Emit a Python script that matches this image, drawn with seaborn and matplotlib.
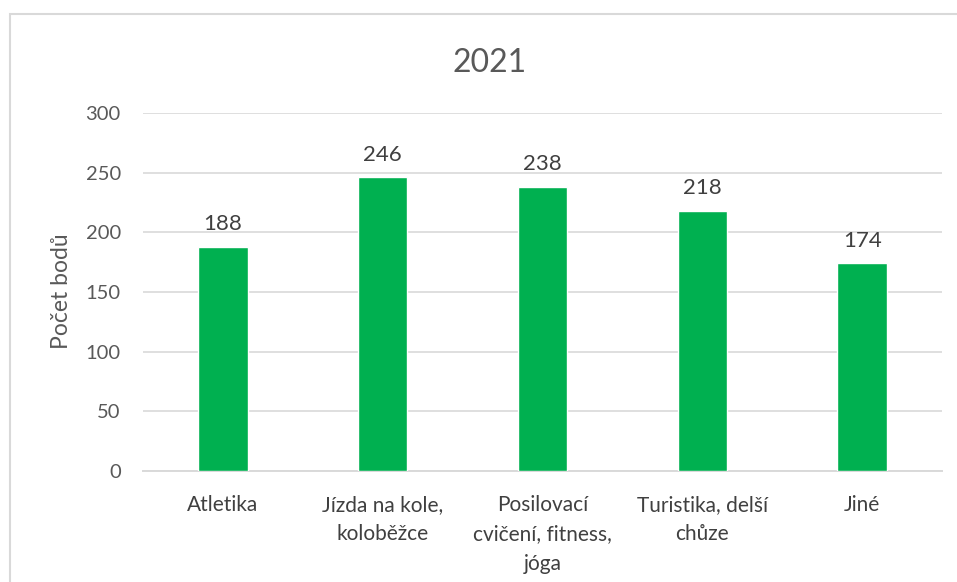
import matplotlib
matplotlib.use("Agg")
import matplotlib.pyplot as plt
import seaborn as sns
from matplotlib.patches import Rectangle

# Data
categories = ["Atletika", "Jízda na kole,\nkoloběžce", "Posilovací\ncvičení, fitness,\njóga",
              "Turistika, delší\nchůze", "Jiné"]
values = [188, 246, 238, 218, 174]
title = "2021"
y_label = "Počet bodů"
y_ticks = [0, 50, 100, 150, 200, 250, 300]

sns.set_theme(style="white")
plt.rcParams["font.family"] = ["Lato", "DejaVu Sans"]

W, H = 957, 582
fig = plt.figure(figsize=(W / 100, H / 100), dpi=100)
fig.patch.set_facecolor("white")

# axes area in pixels: x 143..942, y 113..471
ax = fig.add_axes([143 / W, 1 - 471 / H, (942 - 143) / W, (471 - 113) / H])

sns.barplot(x=categories, y=values, color="#00B050", saturation=1, width=0.31, ax=ax, zorder=3)

ax.set_ylim(0, 300)
ax.set_yticks(y_ticks)
ax.set_xlim(-0.5, len(categories) - 0.5)
ax.grid(axis="y", color="#D9D9D9", linewidth=1.2, zorder=0)
ax.set_axisbelow(True)
for side in ["left", "right", "top"]:
    ax.spines[side].set_visible(False)
ax.spines["bottom"].set_color("#D9D9D9")
ax.spines["bottom"].set_linewidth(1.4)
ax.tick_params(axis="y", length=0, pad=16, labelsize=14.5, labelcolor="#595959")
ax.tick_params(axis="x", length=0, pad=17, labelsize=15, labelcolor="#404040")
for lbl in ax.get_xticklabels():
    lbl.set_linespacing(1.6)
ax.set_xlabel("")
ax.set_ylabel("")

# value labels
for i, v in enumerate(values):
    ax.annotate(str(v), (i, v), xytext=(0, 9), textcoords="offset points",
                ha="center", va="bottom", fontsize=16, color="#404040")

fig.text(490 / W, 1 - 72 / H, title, ha="center", va="baseline",
         fontsize=23, color="#595959")
fig.text(61 / W, 1 - 291 / H, y_label, rotation=90, ha="center", va="center",
         fontsize=16.5, color="#595959")

# chart border
fig.patches.append(Rectangle((9.5 / W, -0.1), 2, 1 - 14 / H + 0.1, transform=fig.transFigure,
                             fill=False, edgecolor="#D9D9D9", linewidth=1.5))

fig.savefig("out.png", dpi=100)
